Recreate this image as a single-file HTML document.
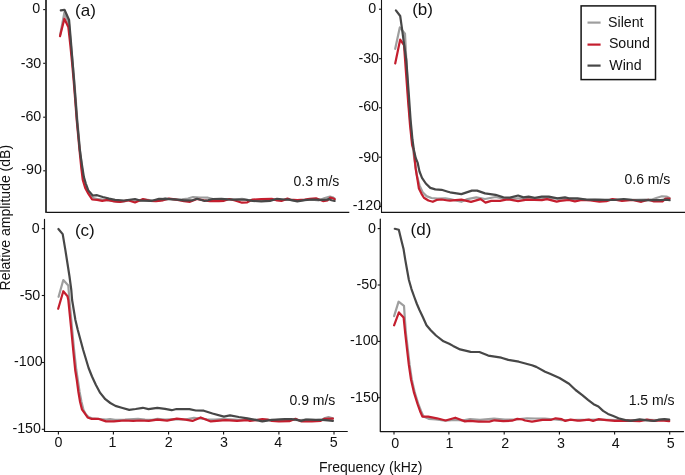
<!DOCTYPE html>
<html><head><meta charset="utf-8"><style>
html,body{margin:0;padding:0;background:#fff;overflow:hidden;width:685px;height:475px;}
svg{display:block;will-change:transform;}
text{font-family:"Liberation Sans", sans-serif;font-size:14px;fill:#111;}
</style></head><body>
<svg width="685" height="475" viewBox="0 0 685 475">
<polyline points="46.3,211.0 46.3,212.4 349.3,212.4" fill="none" stroke="#141414" stroke-width="1.3" stroke-linejoin="round"/><line x1="46.0" y1="0" x2="46.0" y2="212.0" stroke="#363636" stroke-width="1.9" stroke-linecap="round"/><line x1="43.2" y1="9.6" x2="45.2" y2="9.6" stroke="#141414" stroke-width="1.1"/><line x1="43.2" y1="63.3" x2="45.2" y2="63.3" stroke="#141414" stroke-width="1.1"/><line x1="43.2" y1="117.2" x2="45.2" y2="117.2" stroke="#141414" stroke-width="1.1"/><line x1="43.2" y1="170.8" x2="45.2" y2="170.8" stroke="#141414" stroke-width="1.1"/><polyline points="60.2,34.8 64.4,12.5 69.0,24.0 70.9,45.0 72.6,62.0 74.2,80.0 75.8,100.0 77.3,120.0 80.0,150.0 82.0,168.0 83.6,180.0 86.0,188.0 89.0,193.5 93.4,198.0 98.0,199.2 103.0,199.6 108.0,200.3 113.0,200.9 118.0,202.0 124.0,201.5 130.0,200.2 137.0,200.8 145.0,199.6 152.0,200.3 160.0,200.5 165.0,198.2 170.0,199.0 175.0,200.0 182.0,199.4 188.0,198.5 193.0,197.0 200.0,197.5 208.0,197.7 213.0,199.0 220.0,199.6 228.0,199.2 235.0,199.5 242.0,198.8 248.0,199.8 255.0,200.6 262.0,200.2 270.0,199.5 277.0,199.8 284.0,199.9 290.0,199.8 297.0,200.8 305.0,200.0 312.0,199.6 319.0,200.3 324.8,198.0 330.0,196.6 332.6,197.2 334.7,198.7" fill="none" stroke="#9e9e9e" stroke-width="2.2" stroke-linejoin="round" stroke-linecap="round"/><polyline points="60.0,36.2 64.4,18.7 68.3,27.0 70.3,45.0 72.0,62.0 73.6,80.0 75.2,100.0 76.7,120.0 79.5,150.0 81.4,168.9 82.8,180.0 85.2,187.9 88.3,193.6 92.1,199.5 97.1,199.9 102.2,200.8 107.9,199.9 114.2,201.5 120.0,201.8 128.0,200.3 135.0,202.5 143.0,199.0 150.0,200.8 156.0,201.2 163.0,200.3 169.0,198.6 175.0,199.4 184.0,201.2 190.0,201.8 197.0,199.0 204.0,200.3 210.0,201.2 219.0,201.2 224.0,200.8 229.3,199.0 235.0,200.5 242.0,202.7 247.3,202.3 252.5,199.6 261.3,199.2 271.8,198.8 277.0,200.5 281.4,200.9 287.5,198.6 290.0,199.5 297.3,200.2 304.6,199.5 309.7,198.8 316.0,198.3 323.0,201.1 327.6,200.4 330.0,197.6 333.6,198.5 334.7,199.4" fill="none" stroke="#c41e2e" stroke-width="2.2" stroke-linejoin="round" stroke-linecap="round"/><polyline points="60.8,10.3 64.5,9.8 69.1,20.0 70.8,40.0 72.4,60.0 74.0,80.0 75.5,100.0 77.0,120.0 79.8,150.0 82.0,165.2 83.9,177.1 85.8,183.5 88.3,190.4 92.7,195.5 97.1,195.2 102.8,197.0 109.1,198.6 115.0,199.9 124.0,200.5 135.0,199.0 141.0,200.7 152.0,200.8 159.0,198.9 168.0,199.2 175.0,199.4 184.0,200.3 192.5,200.3 197.0,198.8 204.0,200.8 208.0,200.3 212.6,199.0 221.4,198.8 227.5,199.4 235.0,199.6 243.8,199.5 252.5,200.9 261.3,201.4 270.0,200.9 277.0,198.8 284.0,199.5 289.3,199.6 297.3,201.3 304.6,200.2 311.9,199.5 320.7,199.9 326.5,199.6 329.0,199.2 331.5,200.2 334.6,201.0" fill="none" stroke="#474747" stroke-width="2.2" stroke-linejoin="round" stroke-linecap="round"/><polyline points="381.5,0 381.5,212.4 685,212.4" fill="none" stroke="#141414" stroke-width="1.1" stroke-linejoin="round"/><line x1="379.0" y1="9.2" x2="381.5" y2="9.2" stroke="#141414" stroke-width="1.1"/><line x1="379.0" y1="58.7" x2="381.5" y2="58.7" stroke="#141414" stroke-width="1.1"/><line x1="379.0" y1="107.8" x2="381.5" y2="107.8" stroke="#141414" stroke-width="1.1"/><line x1="379.0" y1="157.2" x2="381.5" y2="157.2" stroke="#141414" stroke-width="1.1"/><line x1="379.0" y1="206.4" x2="381.5" y2="206.4" stroke="#141414" stroke-width="1.1"/><polyline points="395.2,48.8 399.8,27.4 405.0,33.7 406.3,60.0 408.4,100.0 410.5,125.0 412.5,145.0 414.5,160.0 416.8,175.0 419.5,185.4 422.7,192.3 426.5,196.1 431.5,198.0 437.8,198.6 445.4,198.4 450.0,199.1 461.4,201.8 467.5,199.1 476.3,197.4 485.0,199.0 495.5,197.0 502.5,198.3 510.0,198.3 518.0,198.3 530.0,198.5 548.0,198.2 565.0,198.8 575.0,199.2 585.0,199.5 595.0,199.3 605.0,199.8 615.0,199.4 625.0,199.6 635.0,199.8 645.0,199.5 652.0,199.6 657.0,197.8 662.0,196.3 666.5,196.5 669.6,198.0" fill="none" stroke="#9e9e9e" stroke-width="2.2" stroke-linejoin="round" stroke-linecap="round"/><polyline points="395.2,63.4 400.2,39.6 404.0,45.0 405.8,70.0 408.0,100.0 410.0,125.0 412.1,145.0 413.8,150.0 415.7,168.9 417.6,180.3 418.9,188.5 421.4,193.6 423.9,197.7 428.4,200.5 432.8,201.8 436.6,199.9 441.6,199.5 447.9,200.5 450.0,200.7 461.4,199.6 471.0,201.9 480.6,199.1 485.5,202.6 491.2,200.9 500.0,200.9 506.0,199.6 510.0,199.7 518.1,201.1 526.9,199.6 541.8,200.2 547.0,199.1 556.7,201.6 560.0,200.9 568.8,200.0 574.9,201.3 581.9,200.0 590.6,200.4 599.4,201.6 606.4,201.1 612.5,199.1 615.0,199.6 622.0,200.9 632.5,200.0 641.3,201.8 648.3,199.8 654.0,201.5 662.5,201.4 665.5,198.6 669.6,198.5" fill="none" stroke="#c41e2e" stroke-width="2.2" stroke-linejoin="round" stroke-linecap="round"/><polyline points="395.9,10.4 400.2,16.0 402.1,29.3 404.6,48.2 406.3,60.0 408.5,90.0 410.6,120.0 412.5,140.0 413.9,150.0 415.7,158.0 417.6,162.6 419.5,171.5 422.0,177.8 425.8,183.5 430.3,187.9 435.3,189.4 441.6,189.8 447.9,191.7 450.0,192.3 461.4,194.1 471.9,190.6 477.1,190.6 485.0,193.4 495.5,194.8 503.4,197.4 510.0,197.6 518.1,195.5 523.4,197.4 528.6,196.7 534.8,197.8 541.8,196.7 548.8,196.7 557.5,198.3 565.0,197.4 568.8,198.3 577.5,198.3 586.3,199.6 599.4,199.8 612.5,200.0 615.0,200.0 623.8,199.0 632.5,200.0 641.3,200.4 651.8,200.2 660.5,200.1 666.5,199.6 669.6,200.2" fill="none" stroke="#474747" stroke-width="2.2" stroke-linejoin="round" stroke-linecap="round"/><polyline points="44.5,219.4 44.5,431.5 347.3,431.5" fill="none" stroke="#141414" stroke-width="1.2" stroke-linejoin="round" stroke-linecap="round"/><line x1="41.8" y1="228.7" x2="44.5" y2="228.7" stroke="#141414" stroke-width="1.1"/><line x1="41.8" y1="295.5" x2="44.5" y2="295.5" stroke="#141414" stroke-width="1.1"/><line x1="41.8" y1="362.5" x2="44.5" y2="362.5" stroke="#141414" stroke-width="1.1"/><line x1="41.8" y1="429.3" x2="44.5" y2="429.3" stroke="#141414" stroke-width="1.1"/><line x1="58.4" y1="431.5" x2="58.4" y2="434.4" stroke="#141414" stroke-width="1.1"/><line x1="113.4" y1="431.5" x2="113.4" y2="434.4" stroke="#141414" stroke-width="1.1"/><line x1="168.6" y1="431.5" x2="168.6" y2="434.4" stroke="#141414" stroke-width="1.1"/><line x1="223.6" y1="431.5" x2="223.6" y2="434.4" stroke="#141414" stroke-width="1.1"/><line x1="278.9" y1="431.5" x2="278.9" y2="434.4" stroke="#141414" stroke-width="1.1"/><line x1="334.0" y1="431.5" x2="334.0" y2="434.4" stroke="#141414" stroke-width="1.1"/><polyline points="58.6,296.8 63.3,280.0 68.3,285.4 69.4,300.0 71.3,320.0 72.2,330.0 74.1,350.0 75.2,360.0 76.3,370.0 77.8,380.0 79.6,392.0 81.5,402.0 83.5,410.0 86.0,414.5 88.5,417.0 92.0,418.3 100.0,419.0 106.0,419.5 110.0,419.2 115.0,419.8 125.0,419.6 138.0,418.8 145.0,419.6 152.0,419.8 157.5,418.8 165.0,419.5 175.0,419.2 185.0,419.5 194.0,417.9 200.0,418.5 207.0,419.3 215.0,419.6 222.0,419.2 230.0,419.4 238.0,419.8 246.0,419.6 255.0,419.7 265.0,419.9 275.0,420.0 285.0,419.6 293.0,419.8 300.0,420.2 308.0,419.7 316.0,420.0 322.0,419.6 325.0,418.0 328.5,417.1 332.9,418.2" fill="none" stroke="#9e9e9e" stroke-width="2.2" stroke-linejoin="round" stroke-linecap="round"/><polyline points="58.2,308.8 63.3,291.2 67.5,296.3 68.3,300.0 70.3,320.0 71.3,330.0 73.2,350.0 74.2,360.0 75.2,370.0 76.8,380.0 78.4,392.0 80.1,402.0 81.9,409.3 85.0,413.7 87.6,417.4 91.1,418.8 98.1,418.8 106.0,421.4 113.9,421.4 124.4,420.5 133.2,420.9 140.0,420.5 148.8,420.9 157.5,419.6 167.1,420.7 176.8,418.6 185.5,419.6 192.5,420.9 200.7,417.4 210.8,421.4 225.6,420.1 237.0,420.9 247.5,420.1 250.0,420.9 257.0,420.1 262.3,419.2 267.5,419.5 271.9,420.9 278.9,421.4 289.4,421.2 295.5,418.8 301.5,421.4 311.9,421.3 320.7,420.9 324.5,418.8 332.9,418.7" fill="none" stroke="#c41e2e" stroke-width="2.2" stroke-linejoin="round" stroke-linecap="round"/><polyline points="58.4,229.0 62.7,234.1 65.3,249.6 67.4,263.0 69.5,276.5 71.3,290.0 72.1,300.0 73.1,306.0 75.4,320.0 77.8,330.0 80.5,340.0 83.2,350.0 86.2,360.0 88.6,368.0 92.0,376.5 95.8,384.7 100.2,392.9 105.3,399.2 110.3,403.0 115.4,405.9 121.7,407.8 129.2,409.9 135.6,409.0 142.8,407.8 148.5,409.1 157.3,407.8 165.0,408.8 171.7,410.2 176.5,409.0 189.4,409.1 195.8,410.5 203.8,410.7 212.5,413.5 223.9,416.6 230.0,415.4 238.8,417.0 247.5,418.3 250.0,418.8 262.3,421.4 271.9,419.8 285.0,419.2 291.2,419.2 296.0,419.6 301.0,420.9 306.0,419.5 315.5,419.9 322.1,419.8 328.0,420.4 332.9,420.8" fill="none" stroke="#474747" stroke-width="2.2" stroke-linejoin="round" stroke-linecap="round"/><polyline points="380.3,219.2 380.3,431.5 683.5,431.5" fill="none" stroke="#141414" stroke-width="1.25" stroke-linejoin="round" stroke-linecap="round"/><line x1="377.7" y1="228.6" x2="380.3" y2="228.6" stroke="#141414" stroke-width="1.1"/><line x1="377.7" y1="285.0" x2="380.3" y2="285.0" stroke="#141414" stroke-width="1.1"/><line x1="377.7" y1="341.4" x2="380.3" y2="341.4" stroke="#141414" stroke-width="1.1"/><line x1="377.7" y1="397.7" x2="380.3" y2="397.7" stroke="#141414" stroke-width="1.1"/><line x1="394.0" y1="431.5" x2="394.0" y2="434.5" stroke="#141414" stroke-width="1.1"/><line x1="448.9" y1="431.5" x2="448.9" y2="434.5" stroke="#141414" stroke-width="1.1"/><line x1="504.2" y1="431.5" x2="504.2" y2="434.5" stroke="#141414" stroke-width="1.1"/><line x1="559.4" y1="431.5" x2="559.4" y2="434.5" stroke="#141414" stroke-width="1.1"/><line x1="614.6" y1="431.5" x2="614.6" y2="434.5" stroke="#141414" stroke-width="1.1"/><line x1="669.7" y1="431.5" x2="669.7" y2="434.5" stroke="#141414" stroke-width="1.1"/><polyline points="394.1,316.2 398.6,301.7 404.0,305.8 404.8,318.0 406.0,334.0 407.9,350.0 409.6,364.7 411.8,379.5 414.8,392.7 418.5,404.5 421.0,411.0 423.5,416.5 428.7,418.8 436.0,419.5 445.0,420.6 455.0,420.0 462.0,420.5 470.0,419.2 480.0,419.8 494.0,418.6 505.0,419.5 515.0,419.5 527.0,418.3 535.0,418.5 545.0,418.6 555.0,419.5 562.0,420.2 570.0,420.0 578.0,419.8 588.0,419.9 598.0,419.7 608.0,419.9 618.0,420.2 628.0,420.0 638.0,420.2 648.0,419.8 658.0,420.0 665.0,419.6 669.2,420.3" fill="none" stroke="#9e9e9e" stroke-width="2.2" stroke-linejoin="round" stroke-linecap="round"/><polyline points="394.1,325.3 398.9,312.4 403.6,317.5 405.3,333.9 407.1,350.0 408.8,364.7 411.0,379.5 414.0,392.7 417.7,404.5 420.0,411.0 422.4,416.6 428.1,416.6 436.9,418.3 445.6,420.5 455.3,417.7 464.9,421.4 470.0,420.9 478.8,421.6 489.3,421.6 494.5,420.3 503.3,421.2 512.0,420.7 517.3,418.9 522.5,419.5 525.0,420.5 532.0,421.6 542.5,419.8 551.3,419.8 555.6,418.3 561.8,419.2 565.3,420.9 570.5,419.6 577.5,420.7 580.0,420.7 588.8,419.6 593.1,420.9 598.4,419.2 606.3,420.1 615.0,420.9 623.8,420.7 632.5,420.9 639.6,421.1 646.9,419.7 654.2,420.8 661.5,420.3 669.2,421.1" fill="none" stroke="#c41e2e" stroke-width="2.2" stroke-linejoin="round" stroke-linecap="round"/><polyline points="394.8,228.8 398.8,229.7 401.4,240.4 403.6,249.3 405.2,259.4 407.0,269.5 408.9,280.0 411.4,288.8 414.3,297.0 416.9,304.0 419.6,310.3 422.8,317.0 426.5,325.2 430.5,330.0 436.0,335.5 443.5,341.3 449.2,343.7 453.1,345.9 460.1,349.4 470.6,351.9 479.4,352.0 488.2,355.6 501.3,357.7 508.3,359.9 518.8,361.7 531.9,365.2 536.3,366.9 545.1,371.7 550.0,373.7 559.5,378.0 569.0,383.7 575.6,390.0 582.3,395.1 588.0,399.8 593.6,404.2 598.4,406.5 603.1,410.9 608.0,413.9 613.3,416.1 618.5,418.3 625.5,420.1 630.8,420.8 639.6,419.3 646.9,420.4 654.2,421.0 659.0,419.6 664.4,419.1 669.2,419.5" fill="none" stroke="#474747" stroke-width="2.2" stroke-linejoin="round" stroke-linecap="round"/><rect x="581.1" y="5.9" width="74.4" height="73.7" fill="#fff" stroke="#141414" stroke-width="1.5"/><line x1="587.5" y1="22.6" x2="600.6" y2="22.6" stroke="#9e9e9e" stroke-width="2.2"/><line x1="587.5" y1="44.6" x2="600.6" y2="44.6" stroke="#c41e2e" stroke-width="2.2"/><line x1="587.5" y1="65.6" x2="600.6" y2="65.6" stroke="#474747" stroke-width="2.2"/><text x="32.19" y="13.15" style="font-size:14.25px">0</text><text x="20.66" y="68.45" style="font-size:14.25px">-30</text><text x="20.71" y="120.55" style="font-size:14.25px">-60</text><text x="21.31" y="174.44" style="font-size:14.25px">-90</text><text x="368.14" y="13.20" style="font-size:14.25px">0</text><text x="358.41" y="63.00" style="font-size:14.25px">-30</text><text x="358.41" y="111.40" style="font-size:14.25px">-60</text><text x="358.56" y="161.59" style="font-size:14.25px">-90</text><text x="352.64" y="210.14" style="font-size:14.25px">-120</text><text x="31.64" y="233.35" style="font-size:14.25px">0</text><text x="19.71" y="299.76" style="font-size:14.25px">-50</text><text x="14.09" y="366.09" style="font-size:14.25px">-100</text><text x="12.44" y="433.30" style="font-size:14.25px">-150</text><text x="367.89" y="233.40" style="font-size:14.25px">0</text><text x="356.56" y="288.81" style="font-size:14.25px">-50</text><text x="349.99" y="345.49" style="font-size:14.25px">-100</text><text x="350.34" y="401.60" style="font-size:14.25px">-150</text><text x="54.53" y="447.10" style="font-size:14.25px">0</text><text x="108.50" y="447.05" style="font-size:14.25px">1</text><text x="164.64" y="446.97" style="font-size:14.25px">2</text><text x="220.10" y="447.00" style="font-size:14.25px">3</text><text x="274.24" y="447.00" style="font-size:14.25px">4</text><text x="329.75" y="447.02" style="font-size:14.25px">5</text><text x="391.29" y="447.65" style="font-size:14.25px">0</text><text x="445.50" y="447.59" style="font-size:14.25px">1</text><text x="501.19" y="447.57" style="font-size:14.25px">2</text><text x="556.96" y="447.60" style="font-size:14.25px">3</text><text x="611.63" y="447.80" style="font-size:14.25px">4</text><text x="666.66" y="447.82" style="font-size:14.25px">5</text><text x="75.08" y="15.79" style="font-size:17px">(a)</text><text x="412.13" y="15.36" style="font-size:17px">(b)</text><text x="74.88" y="236.45" style="font-size:17px">(c)</text><text x="410.57" y="235.35" style="font-size:17px">(d)</text><text x="293.48" y="185.66">0.3 m/s</text><text x="624.48" y="183.71">0.6 m/s</text><text x="289.48" y="404.80">0.9 m/s</text><text x="628.64" y="404.70">1.5 m/s</text><text x="608.04" y="27.03" style="font-size:14.2px">Silent</text><text x="608.88" y="47.60" style="font-size:14.2px">Sound</text><text x="609.34" y="69.73" style="font-size:14.2px">Wind</text><text x="318.96" y="472.21">Frequency (kHz)</text><text transform="translate(9.94,290.47) rotate(-90)">Relative amplitude (dB)</text>
</svg>
</body></html>
